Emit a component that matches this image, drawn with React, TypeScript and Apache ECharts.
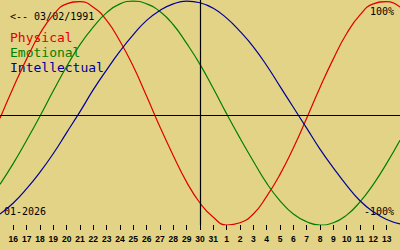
import React, { useEffect, useRef } from "react";
import * as echarts from "echarts";

const days = [
  "15", "16", "17", "18", "19", "20", "21", "22", "23", "24", "25", "26", "27", "28", "29", "30", "31",
  "1", "2", "3", "4", "5", "6", "7", "8", "9", "10", "11", "12", "13", "14",
];

const physical = [
  -0.03, 0.25, 0.51, 0.74, 0.91, 1.01, 1.03, 0.98, 0.86, 0.67, 0.44, 0.17, -0.11, -0.37, -0.61, -0.8,
  -0.93, -1.0, -0.98, -0.9, -0.74, -0.54, -0.3, -0.03, 0.25, 0.51, 0.74, 0.91, 1.01, 1.03, 0.98,
];

const emotional = [
  -0.63, -0.44, -0.23, -0.01, 0.22, 0.44, 0.64, 0.8, 0.93, 1.01, 1.035, 1.01, 0.94, 0.82, 0.65, 0.46,
  0.24, 0.01, -0.21, -0.42, -0.62, -0.78, -0.9, -0.97, -1.0, -0.98, -0.91, -0.79, -0.63, -0.44, -0.23,
];

const intellectual = [
  -0.9, -0.8, -0.67, -0.52, -0.35, -0.16, 0.03, 0.23, 0.41, 0.58, 0.73, 0.86, 0.95, 1.01, 1.035, 1.02,
  0.97, 0.88, 0.76, 0.62, 0.45, 0.26, 0.07, -0.12, -0.31, -0.48, -0.64, -0.78, -0.88, -0.95, -0.99,
];

const todayIndex = 15;
const birthText = "<-- 03/02/1991";
const monthText = "01-2026";
const legendNames = ["Physical", "Emotional", "Intellectual"];
const colors = ["#e00000", "#008000", "#000099"];

export default function App() {
  const ref = useRef<HTMLDivElement>(null);
  useEffect(() => {
    if (!ref.current) return;
    const chart = echarts.init(ref.current, null, { renderer: "svg" });
    const mono = "DejaVu Sans Mono";
    const shown = days.map((_, i) => i).filter((i) => i > 0 && i < days.length - 1);
    const pairs = (arr: number[]) => arr.map((v, i) => [i, v]);
    const lineSeries = (name: string, data: number[], color: string, extra: any = {}) => ({
      type: "line",
      name,
      data: pairs(data),
      smooth: true,
      symbol: "none",
      silent: true,
      lineStyle: { color, width: 1.2 },
      ...extra,
    });
    chart.setOption({
      animation: false,
      backgroundColor: "#e2d386",
      grid: { left: 0, right: 0, top: 0, bottom: 25 },
      xAxis: {
        type: "value",
        min: 0,
        max: days.length - 1,
        interval: 1,
        axisLine: { show: false, onZero: false },
        axisTick: {
          show: true,
          length: 5,
          customValues: shown,
          lineStyle: { color: "#000", width: 1 },
        },
        axisLabel: {
          customValues: shown,
          formatter: (v: number) => days[Math.round(v)] ?? "",
          margin: 9,
          color: "#000",
          fontFamily: "Liberation Sans",
          fontWeight: "bold",
          fontSize: 8.5,
        },
        splitLine: { show: false },
      },
      yAxis: {
        type: "value",
        min: -1,
        max: 1.045,
        show: false,
        splitLine: { show: false },
      },
      series: [
        lineSeries(legendNames[0], physical, colors[0], {
          markLine: {
            silent: true,
            symbol: ["none", "none"],
            label: { show: false },
            lineStyle: { color: "#000", width: 1.2, type: "solid" },
            emphasis: { disabled: true },
            data: [{ yAxis: 0 }, { xAxis: todayIndex }],
          },
        }),
        lineSeries(legendNames[1], emotional, colors[1]),
        lineSeries(legendNames[2], intellectual, colors[2]),
      ],
      graphic: [
        { type: "text", left: 10, top: 11, style: { text: birthText, fill: "#000", font: `10px '${mono}'` } },
        { type: "text", left: 10, top: 31, style: { text: legendNames[0], fill: colors[0], font: `13px '${mono}'` } },
        { type: "text", left: 10, top: 46, style: { text: legendNames[1], fill: colors[1], font: `13px '${mono}'` } },
        { type: "text", left: 10, top: 61, style: { text: legendNames[2], fill: colors[2], font: `13px '${mono}'` } },
        { type: "text", right: 6, top: 6, style: { text: "100%", fill: "#000", font: `10px '${mono}'` } },
        { type: "text", right: 6, top: 206, style: { text: "-100%", fill: "#000", font: `10px '${mono}'` } },
        { type: "text", left: 4, top: 206, style: { text: monthText, fill: "#000", font: `10px '${mono}'` } },
      ],
    });
    return () => chart.dispose();
  }, []);
  return (
    <div
      ref={ref}
      style={{ position: "absolute", left: 0, top: 0, width: 400, height: 250 }}
    />
  );
}
